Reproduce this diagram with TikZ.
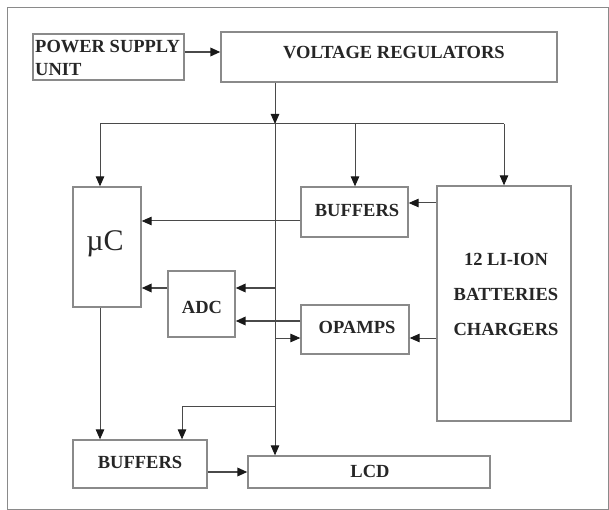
\documentclass[tikz,border=0pt]{standalone}
\usepackage{fontspec}
\setmainfont{Liberation Serif}
\usetikzlibrary{arrows.meta}
\definecolor{boxgray}{HTML}{8A8A8A}
\definecolor{linegray}{HTML}{4A4A4A}
\begin{document}
\begin{tikzpicture}[x=1pt,y=-1pt,
  box/.style={draw=boxgray, line width=1.3pt, inner sep=0pt},
  txt/.style={inner sep=0pt, text=black!85, font=\fontsize{18.5}{23}\selectfont\bfseries},
  conn/.style={draw=linegray, line width=1pt},
  arr/.style={conn, -{Triangle[length=10pt,width=8.5pt,color=black!90]}},
  arrthick/.style={arr, line width=1.8pt}]
\useasboundingbox (0,0) rectangle (609,510);
\draw[boxgray, line width=1pt] (7,8) rectangle (608,509);
% boxes
\node[box, minimum width=151pt, minimum height=46pt] (psu) at (108.5,57) {};
\node[box, minimum width=336pt, minimum height=50pt] (vr) at (389,57) {};
\node[box, minimum width=68pt, minimum height=120pt] (uc) at (107,247) {};
\node[box, minimum width=107pt, minimum height=50pt] (buftop) at (354.5,212) {};
\node[box, minimum width=134pt, minimum height=235pt] (bat) at (504,303.5) {};
\node[box, minimum width=67pt, minimum height=66pt] (adc) at (201.5,304) {};
\node[box, minimum width=108pt, minimum height=49pt] (opamps) at (355,329.5) {};
\node[box, minimum width=134pt, minimum height=48pt] (bufbot) at (140,464) {};
\node[box, minimum width=242pt, minimum height=32pt] (lcd) at (369,472) {};
% texts
\node[txt, anchor=base west] (tpsu1) at (35,52.5) {POWER SUPPLY};
\node[txt, anchor=base west] (tpsu2) at (35,75.5) {UNIT};
\node[txt, anchor=base] (tvr) at (394,58.5) {VOLTAGE REGULATORS};
\node[txt, anchor=base] (tbuftop) at (357,217) {BUFFERS};
\node[inner sep=0pt, anchor=base, text=black!85, font=\fontsize{30}{32}\selectfont] (tuc) at (105,251) {µC};
\node[txt, anchor=base] (tbat1) at (506,265.5) {12 LI-ION};
\node[txt, anchor=base] (tbat2) at (506,300.5) {BATTERIES};
\node[txt, anchor=base] (tbat3) at (506,335.5) {CHARGERS};
\node[txt, anchor=base] (tadc) at (202,313.5) {ADC};
\node[txt, anchor=base] (topamps) at (357,333.5) {OPAMPS};
\node[txt, anchor=base] (tbufbot) at (140,468.5) {BUFFERS};
\node[txt, anchor=base] (tlcd) at (370,477.5) {LCD};
% junctions
\coordinate (j0) at (275,124);
\coordinate (jL) at (100,124);
\coordinate (jM) at (355,124);
\coordinate (jR) at (504,124);
\coordinate (jB) at (182,406);
% connectors
\draw[arrthick] ([yshift=5pt]psu.east) -- ([yshift=5pt]vr.west);
\draw[arr] (vr.south -| j0) -- (j0);
\draw[conn] (jL) -- (jR);
\draw[arr] (jL) -- (uc.north -| jL);
\draw[arr] (jM) -- (buftop.north -| jM);
\draw[arr] (jR) -- (bat.north -| jR);
\draw[arr] (j0) -- (lcd.north -| j0);
\draw[arr] (bat.west |- 0,203) -- (buftop.east |- 0,203);
\draw[arr] (buftop.west |- 0,221) -- (uc.east |- 0,221);
\draw[arrthick] (adc.west |- 0,288) -- (uc.east |- 0,288);
\draw[arrthick] (j0 |- 0,288) -- (adc.east |- 0,288);
\draw[arrthick] (opamps.west |- 0,321) -- (adc.east |- 0,321);
\draw[arr] (j0 |- 0,338) -- (opamps.west |- 0,338);
\draw[arr] (bat.west |- 0,338) -- (opamps.east |- 0,338);
\draw[arr] (uc.south -| jL) -- (bufbot.north -| jL);
\draw[arr] (j0 |- jB) -| (bufbot.north -| jB);
\draw[arrthick] (bufbot.east |- 0,472) -- (lcd.west |- 0,472);
\end{tikzpicture}
\end{document}
